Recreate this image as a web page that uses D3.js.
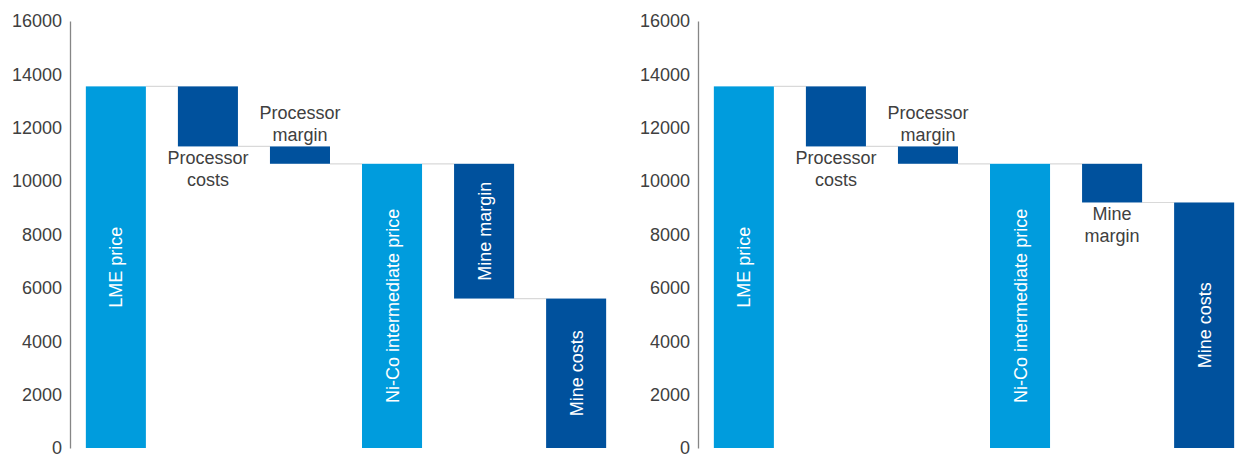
<!DOCTYPE html>
<html><head><meta charset="utf-8">
<script src="https://cdn.jsdelivr.net/npm/d3@7"></script>
<style>body{margin:0;background:#fff}svg{display:block}text{font-family:"Liberation Sans",Arial,sans-serif}</style>
</head><body>
<script>
const categories = ["LME price","Processor costs","Processor margin","Ni-Co intermediate price","Mine margin","Mine costs"];
const kinds = ["total","delta","delta","total","delta","total"];
const leftValues = [13550, 2250, 650, 10650, 5050, 5600];
const rightValues = [13550, 2250, 650, 10650, 1450, 9200];
const leftLabelPos = ["inside","below","above","inside","inside","inside"];
const rightLabelPos = ["inside","below","above","inside","below","inside"];
const labelLines = [["LME price"],["Processor","costs"],["Processor","margin"],["Ni-Co intermediate price"],["Mine","margin"],["Mine costs"]];
const yTicks = [0,2000,4000,6000,8000,10000,12000,14000,16000];

const W = 1242, H = 455;
const svg = d3.select("body").append("svg").attr("width", W).attr("height", H);
const colLight = "#009cdd", colDark = "#00519d";

function drawChart(x0, values, labelPos) {
  const g = svg.append("g").attr("transform", `translate(${x0},0)`);
  const y = d3.scaleLinear().domain([0,16000]).range([448,21]);
  const x = d3.scaleBand().domain(categories).range([0,552]).paddingInner(32/92).paddingOuter(16/92*0.99);
  let level = 0;
  const bars = categories.map((c,i) => {
    let top, bot;
    if (kinds[i] === "total") { top = values[i]; bot = 0; level = values[i]; }
    else { top = level; bot = level - values[i]; level = bot; }
    return {c, i, top, bot, end: level};
  });
  bars.slice(0,-1).forEach((b,i) => {
    const n = bars[i+1];
    g.append("line")
      .attr("x1", x(b.c)+x.bandwidth()).attr("x2", x(n.c))
      .attr("y1", y(b.end)).attr("y2", y(b.end))
      .attr("stroke", "#d9d9d9").attr("stroke-width", 1.2);
  });
  g.selectAll("rect.bar").data(bars).join("rect")
    .attr("x", d => x(d.c)).attr("width", x.bandwidth())
    .attr("y", d => y(d.top)).attr("height", d => y(d.bot)-y(d.top))
    .attr("fill", d => kinds[d.i]==="total" && d.i<4 ? colLight : colDark);
  const ax = g.append("g").call(d3.axisLeft(y).tickValues(yTicks).tickFormat(d3.format("d")).tickSize(0).tickPadding(8).tickSizeOuter(0));
  ax.select(".domain").attr("stroke", "#868686").attr("stroke-width", 1.3);
  ax.selectAll("text").attr("font-size", 18).attr("fill", "#404040").style("font-family", '"Liberation Sans",Arial,sans-serif');
  bars.forEach(b => {
    const pos = labelPos[b.i];
    const cx = x(b.c) + x.bandwidth()/2;
    if (pos === "inside") {
      const cy = (y(b.top)+y(b.bot))/2;
      g.append("text").attr("transform", `translate(${cx+6.5},${cy}) rotate(-90)`)
        .attr("text-anchor","middle").attr("font-size",18).attr("fill","#fff")
        .text(labelLines[b.i].join(" "));
    } else {
      const lines = labelLines[b.i];
      const t = g.append("text").attr("text-anchor","middle").attr("font-size",18).attr("fill","#404040");
      const base = pos === "below" ? y(b.bot) + 17.5 : y(b.top) - 27;
      lines.forEach((ln,k) => t.append("tspan").attr("x", cx).attr("y", base + k*22).text(ln));
    }
  });
}
drawChart(70, leftValues, leftLabelPos);
drawChart(698, rightValues, rightLabelPos);
</script>
</body></html>
